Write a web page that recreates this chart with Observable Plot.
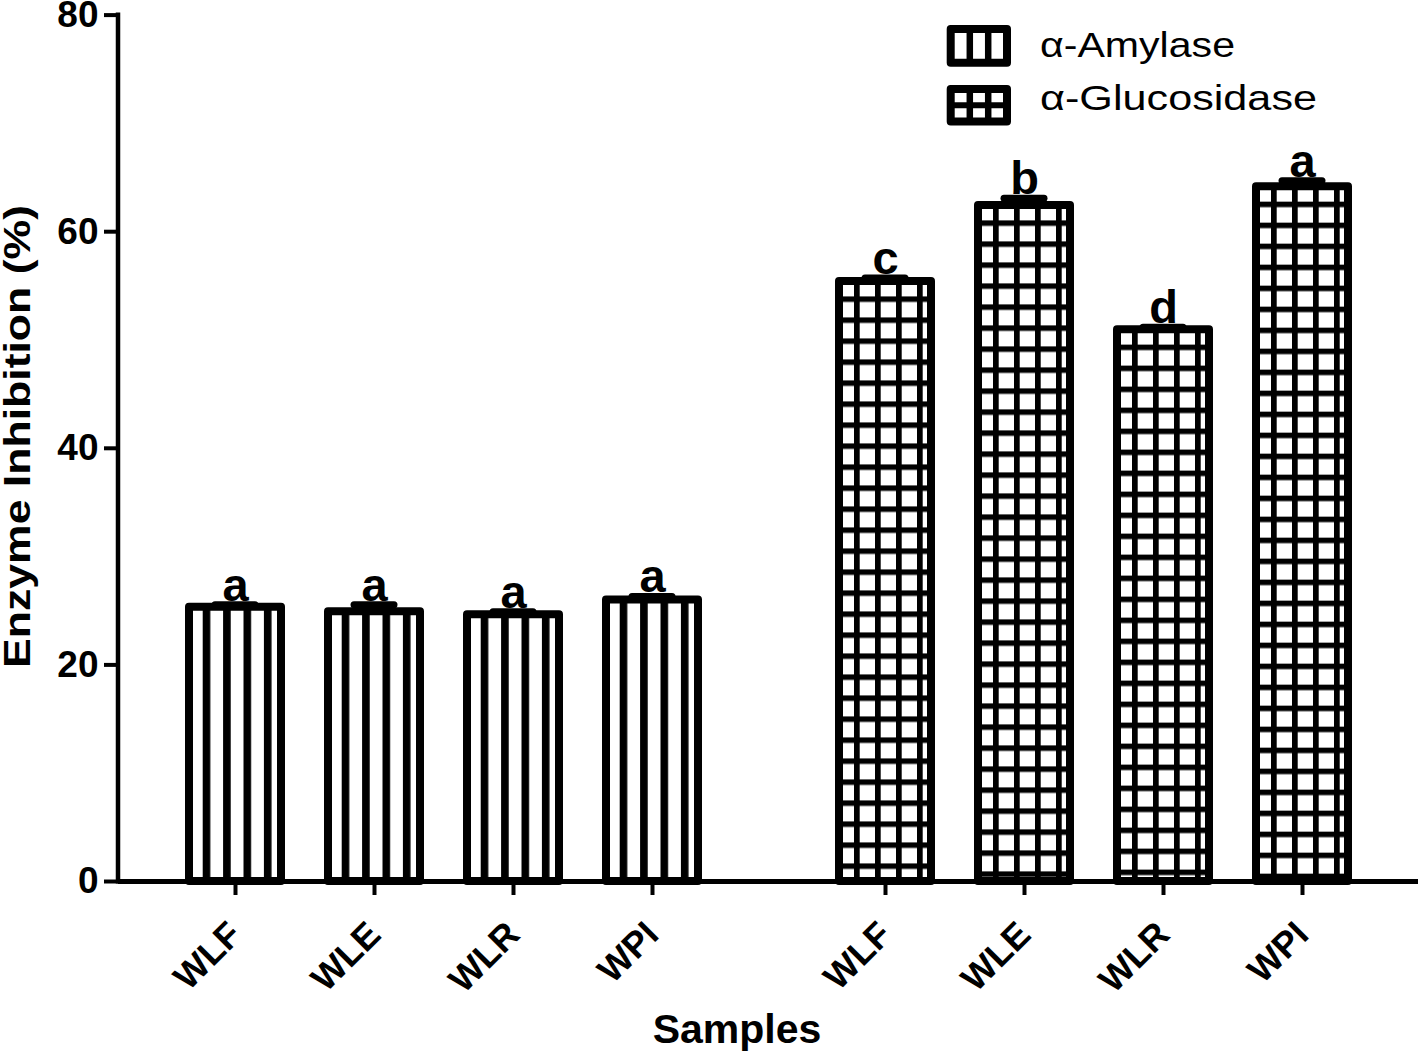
<!DOCTYPE html>
<html>
<head>
<meta charset="utf-8">
<script src="https://cdn.jsdelivr.net/npm/d3@7"></script>
<script src="https://cdn.jsdelivr.net/npm/@observablehq/plot@0.6"></script>
<style>
  html, body { margin: 0; padding: 0; background: #fff; }
  #chart svg { display: block; }
</style>
</head>
<body>
<div id="chart"></div>
<script>
// ---- data ----
const samples = ["WLF", "WLE", "WLR", "WPI"];
const enzymes = ["α-Amylase", "α-Glucosidase"];
const amylaseMean = [25.33, 24.9, 24.63, 26.0];
const amylaseSD = [0.23, 0.66, 0.27, 0.32];
const amylaseLetters = ["a", "a", "a", "a"];
const glucosidaseMean = [55.4, 62.42, 50.95, 64.15];
const glucosidaseSD = [0.32, 0.66, 0.22, 0.56];
const glucosidaseLetters = ["c", "b", "d", "a"];
const yTicks = [0, 20, 40, 60, 80];
const yLabel = "Enzyme Inhibition (%)";
const xLabel = "Samples";

const buildRows = (enzyme, means, sds, letters) =>
  samples.map((s, i) => ({enzyme, sample: s, mean: means[i], top: means[i] + sds[i], letter: letters[i]}));
const amylase = buildRows(enzymes[0], amylaseMean, amylaseSD, amylaseLetters);
const glucosidase = buildRows(enzymes[1], glucosidaseMean, glucosidaseSD, glucosidaseLetters);
const all = amylase.concat(glucosidase);

const FONT = "'Liberation Sans', Arial, Helvetica, sans-serif";
const ML = 118;

const plot = Plot.plot({
  width: 1418,
  height: 1054,
  marginTop: 14.6,
  marginBottom: 173,
  marginLeft: ML,
  marginRight: 0,
  style: {fontFamily: FONT, background: "white", color: "black"},
  fx: {domain: enzymes, padding: 0, axis: null, label: null},
  x: {domain: samples, paddingInner: 0.34, paddingOuter: 0.5, label: null},
  y: {domain: [0, 80], label: null},
  marks: [
    Plot.axisY({ticks: yTicks, tickSize: 14, tickPadding: 6, strokeWidth: 4, fontSize: 37, fontWeight: "bold", label: null}),
    Plot.axisX({tickSize: 14, tickPadding: 33, tickRotate: -45, strokeWidth: 4, fontSize: 36, fontWeight: "bold", label: null}),
    Plot.ruleY([0], {strokeWidth: 5}),
    Plot.barY(amylase, {fx: "enzyme", x: "sample", y: "mean", fill: "#fffffe", stroke: "black", strokeWidth: 8, strokeLinejoin: "round"}),
    Plot.barY(glucosidase, {fx: "enzyme", x: "sample", y: "mean", fill: "#fffffd", stroke: "black", strokeWidth: 8, strokeLinejoin: "round"}),
    Plot.ruleX(all, {fx: "enzyme", x: "sample", y1: "mean", y2: "top", strokeWidth: 7}),
    Plot.tickY(all, {fx: "enzyme", x: "sample", y: "top", strokeWidth: 7, strokeLinecap: "round", insetLeft: 26, insetRight: 26}),
    Plot.text(all, {fx: "enzyme", x: "sample", y: "top", text: "letter", dy: -4, lineAnchor: "bottom", fontSize: 47, fontWeight: "bold"})
  ]
});

document.getElementById("chart").appendChild(plot);

// ---- post-processing: hatch patterns, axis line, titles, legend ----
const svg = d3.select(plot);
const defs = svg.insert("defs", ":first-child");

let k = 0;
svg.selectAll('g[fill="#fffffe"] rect').each(function () {
  const r = d3.select(this);
  const x = +r.attr("x"), y = +r.attr("y");
  const id = "amyPat" + (k++);
  const p = defs.append("pattern").attr("id", id).attr("patternUnits", "userSpaceOnUse")
    .attr("x", x + 13.7).attr("y", y).attr("width", 20.4).attr("height", 20);
  p.append("rect").attr("width", 20.4).attr("height", 20).attr("fill", "white");
  p.append("rect").attr("width", 7.6).attr("height", 20).attr("fill", "black");
  r.attr("fill", `url(#${id})`);
});
svg.selectAll('g[fill="#fffffd"] rect').each(function () {
  const r = d3.select(this);
  const x = +r.attr("x"), y = +r.attr("y");
  const id = "gluPat" + (k++);
  const p = defs.append("pattern").attr("id", id).attr("patternUnits", "userSpaceOnUse")
    .attr("x", x + 15).attr("y", y + 15.4).attr("width", 21).attr("height", 21);
  p.append("rect").attr("width", 21).attr("height", 21).attr("fill", "white");
  p.append("rect").attr("width", 5.7).attr("height", 21).attr("fill", "black");
  p.append("rect").attr("width", 21).attr("height", 5.5).attr("fill", "black");
  r.attr("fill", `url(#${id})`);
});

const ys = plot.scale("y");
svg.append("line")
  .attr("x1", ML).attr("x2", ML)
  .attr("y1", ys.apply(0) + 2.5).attr("y2", ys.apply(80) - 2)
  .attr("stroke", "black").attr("stroke-width", 4.5);

// axis titles
svg.append("text")
  .attr("transform", "translate(30,436.5) rotate(-90)")
  .attr("text-anchor", "middle")
  .attr("font-family", FONT).attr("font-weight", "bold").attr("font-size", 37)
  .attr("textLength", 463).attr("lengthAdjust", "spacingAndGlyphs")
  .attr("fill", "black")
  .text(yLabel);
svg.append("text")
  .attr("x", 737).attr("y", 1043)
  .attr("text-anchor", "middle")
  .attr("font-family", FONT).attr("font-weight", "bold").attr("font-size", 41)
  .attr("fill", "black")
  .text(xLabel);

// legend
const lg = svg.append("g").attr("class", "legend").attr("text-anchor", "start");
const sw = [{y: 29, h: 33.7, grid: false, label: enzymes[0], base: 56.7, len: 195},
            {y: 89, h: 32.5, grid: true, label: enzymes[1], base: 109.5, len: 277}];
sw.forEach(s => {
  lg.append("rect").attr("x", 950.7).attr("y", s.y).attr("width", 56.3).attr("height", s.h)
    .attr("fill", "white").attr("stroke", "black").attr("stroke-width", 8).attr("stroke-linejoin", "round");
  [969.8, 988.2].forEach(lx => lg.append("line").attr("x1", lx).attr("x2", lx)
    .attr("y1", s.y).attr("y2", s.y + s.h).attr("stroke", "black").attr("stroke-width", 6.5));
  if (s.grid) lg.append("line").attr("x1", 950.7).attr("x2", 1007).attr("y1", s.y + s.h / 2).attr("y2", s.y + s.h / 2)
    .attr("stroke", "black").attr("stroke-width", 6);
  lg.append("text").attr("x", 1040).attr("y", s.base)
    .attr("text-anchor", "start")
    .attr("font-family", FONT).attr("font-size", 35).attr("fill", "black")
    .attr("textLength", s.len).attr("lengthAdjust", "spacingAndGlyphs")
    .text(s.label);
});
</script>
</body>
</html>
